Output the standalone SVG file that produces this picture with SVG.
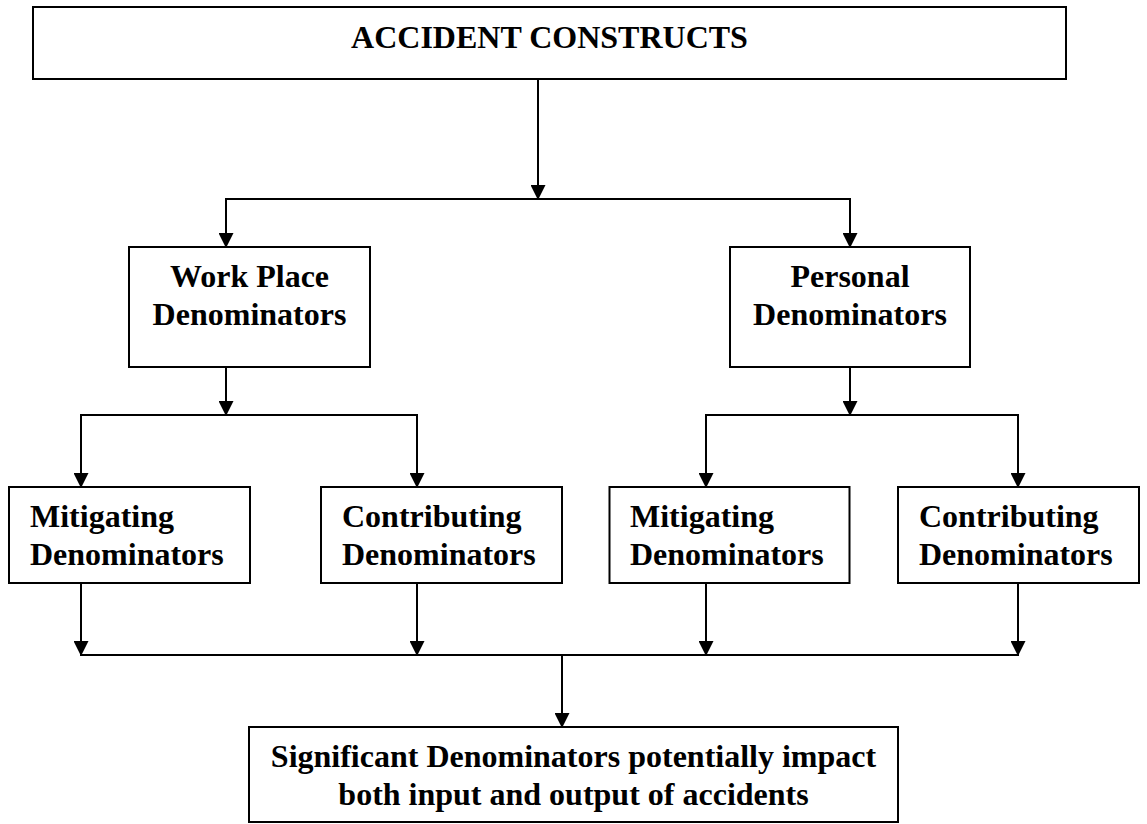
<svg xmlns="http://www.w3.org/2000/svg" width="1147" height="824" viewBox="0 0 1147 824">
<style>
  .box { fill: #ffffff; stroke: #000000; stroke-width: 2; }
  .t { font-family: "Liberation Serif", "Times New Roman", serif; font-weight: bold; font-size: 32px; fill: #000000; }
  .c { text-anchor: middle; }
  .ln { fill: none; stroke: #000000; stroke-width: 2; }
</style>
<defs>
  <marker id="ah" markerUnits="userSpaceOnUse" markerWidth="15" markerHeight="15" refX="14" refY="7.5" orient="auto">
    <path d="M0,0 L15,7.5 L0,15 Z" fill="#000000"/>
  </marker>
</defs>
<rect width="1147" height="824" fill="#ffffff"/>

<g id="connectors">
  <line class="ln" x1="538" y1="79" x2="538" y2="199" marker-end="url(#ah)"/>
  <line class="ln" x1="225" y1="199" x2="851" y2="199"/>
  <line class="ln" x1="226" y1="199" x2="226" y2="247" marker-end="url(#ah)"/>
  <line class="ln" x1="850" y1="199" x2="850" y2="247" marker-end="url(#ah)"/>

  <line class="ln" x1="226" y1="367" x2="226" y2="415" marker-end="url(#ah)"/>
  <line class="ln" x1="80" y1="415" x2="418" y2="415"/>
  <line class="ln" x1="81" y1="415" x2="81" y2="487" marker-end="url(#ah)"/>
  <line class="ln" x1="417" y1="415" x2="417" y2="487" marker-end="url(#ah)"/>

  <line class="ln" x1="850" y1="367" x2="850" y2="415" marker-end="url(#ah)"/>
  <line class="ln" x1="705" y1="415" x2="1019" y2="415"/>
  <line class="ln" x1="706" y1="415" x2="706" y2="487" marker-end="url(#ah)"/>
  <line class="ln" x1="1018" y1="415" x2="1018" y2="487" marker-end="url(#ah)"/>

  <line class="ln" x1="81" y1="583" x2="81" y2="655" marker-end="url(#ah)"/>
  <line class="ln" x1="417" y1="583" x2="417" y2="655" marker-end="url(#ah)"/>
  <line class="ln" x1="706" y1="583" x2="706" y2="655" marker-end="url(#ah)"/>
  <line class="ln" x1="1018" y1="583" x2="1018" y2="655" marker-end="url(#ah)"/>
  <line class="ln" x1="80" y1="655" x2="1019" y2="655"/>
  <line class="ln" x1="562" y1="655" x2="562" y2="727" marker-end="url(#ah)"/>
</g>

<g id="accident-constructs">
  <rect class="box" x="33" y="7" width="1033" height="72"/>
  <text class="t c" x="549.5" y="48">ACCIDENT CONSTRUCTS</text>
</g>

<g id="work-place">
  <rect class="box" x="129" y="247" width="241" height="120"/>
  <text class="t c" x="249.5" y="287">Work Place</text>
  <text class="t c" x="249.5" y="325">Denominators</text>
</g>

<g id="personal">
  <rect class="box" x="730" y="247" width="240" height="120"/>
  <text class="t c" x="850" y="287">Personal</text>
  <text class="t c" x="850" y="325">Denominators</text>
</g>

<g id="wp-mitigating">
  <rect class="box" x="9" y="487" width="241" height="96"/>
  <text class="t" x="30" y="527">Mitigating</text>
  <text class="t" x="30" y="564.5">Denominators</text>
</g>

<g id="wp-contributing">
  <rect class="box" x="321" y="487" width="241" height="96"/>
  <text class="t" x="342" y="527">Contributing</text>
  <text class="t" x="342" y="564.5">Denominators</text>
</g>

<g id="p-mitigating">
  <rect class="box" x="609.5" y="487" width="240" height="96"/>
  <text class="t" x="630" y="527">Mitigating</text>
  <text class="t" x="630" y="564.5">Denominators</text>
</g>

<g id="p-contributing">
  <rect class="box" x="898" y="487" width="241" height="96"/>
  <text class="t" x="919" y="527">Contributing</text>
  <text class="t" x="919" y="564.5">Denominators</text>
</g>

<g id="significant">
  <rect class="box" x="249" y="727" width="649" height="95"/>
  <text class="t c" x="573.5" y="767">Significant Denominators potentially impact</text>
  <text class="t c" x="573.5" y="804.5">both input and output of accidents</text>
</g>
</svg>
